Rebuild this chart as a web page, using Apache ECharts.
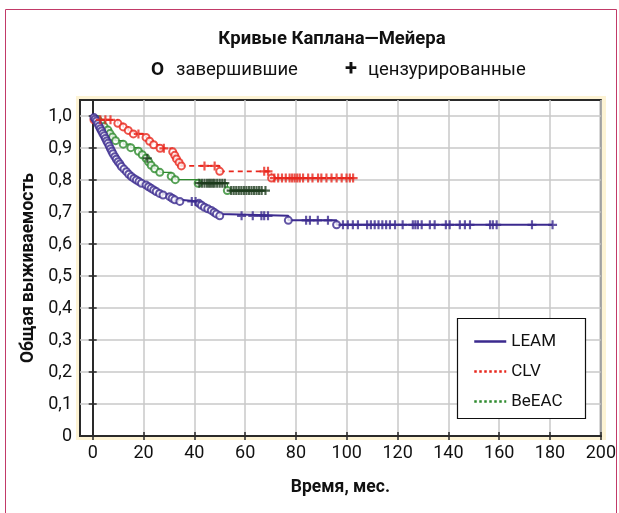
<!DOCTYPE html>
<html>
<head>
<meta charset="utf-8">
<script src="https://cdn.jsdelivr.net/npm/echarts@6/dist/echarts.min.js"></script>
<style>
  html, body { margin: 0; padding: 0; background: #fff; }
  #chart { width: 619px; height: 513px; }
</style>
</head>
<body>
<div id="chart"></div>
<script>
// Kaplan–Meier survival by regimen: event steps [time, survival] and censoring times
const xTicks = [0, 20, 40, 60, 80, 100, 120, 140, 160, 180, 200];
const yTicks = [0, 0.1, 0.2, 0.3, 0.4, 0.5, 0.6, 0.7, 0.8, 0.9, 1.0];

const leamEvents = [
  [0.5, 0.995], [1, 0.99], [1.5, 0.984], [2, 0.976], [2.5, 0.968], [3, 0.96], [3.5, 0.953],
  [4, 0.945], [4.5, 0.938], [5, 0.93], [5.5, 0.922], [6, 0.915], [6.5, 0.906], [7, 0.898],
  [7.5, 0.89], [8, 0.882], [8.7, 0.873], [9.3, 0.865], [10, 0.857], [10.7, 0.85], [11.3, 0.842],
  [12.3, 0.834], [13.3, 0.826], [14.2, 0.818], [15.2, 0.811], [16.2, 0.805], [17.2, 0.8],
  [18.2, 0.795], [19.2, 0.79], [21, 0.784], [22, 0.779], [23, 0.774], [24, 0.769], [25, 0.764],
  [26.3, 0.758], [27.7, 0.753], [30.3, 0.748], [31.3, 0.743], [32.3, 0.738], [34.3, 0.733],
  [41.8, 0.727], [42.8, 0.721], [44, 0.715], [45.3, 0.71], [46.7, 0.705], [47.8, 0.699],
  [48.7, 0.694], [50, 0.688], [77, 0.674], [96, 0.66]
];
const leamCensored = [
  39, 40.5, 58.6, 63, 66.4, 67.5, 69, 84, 85.5, 88.6, 92.6, 98.5, 100.4, 102.4, 104.4, 108,
  109.5, 111, 112.5, 114, 115.5, 117, 119, 122, 126, 127, 128, 129.5, 132.7, 134.6, 139, 140.5,
  144.5, 146.5, 148.5, 156.4, 157.5, 159, 172.9, 181
];

const clvEvents = [
  [0.5, 0.988], [9.9, 0.977], [12, 0.966], [14, 0.955], [16, 0.944], [21, 0.933], [22.4, 0.921],
  [24, 0.91], [26.5, 0.899], [31.5, 0.888], [32.3, 0.877], [33, 0.866], [34, 0.855],
  [34.9, 0.844], [50, 0.827], [70.4, 0.806]
];
const clvCensored = [
  3, 5, 7, 18, 28, 44, 48, 67.5, 69, 71.5, 73, 74.5, 76, 77.5, 78.5, 79.5, 80.5, 81.5, 82.8,
  84.8, 86.5, 88.7, 90, 92, 94, 96, 98, 99.9, 101.2, 102.5
];

const beeacEvents = [
  [2, 0.989], [3.5, 0.978], [4.5, 0.967], [6, 0.956], [6.8, 0.945], [7.8, 0.934], [9, 0.923],
  [12, 0.912], [15, 0.901], [18, 0.89], [19.5, 0.879], [21, 0.868], [22, 0.857], [23, 0.846],
  [24.4, 0.835], [26.4, 0.824], [30.9, 0.812], [32.5, 0.801], [41.5, 0.79], [53, 0.767]
];
const beeacCensored = [
  21.5, 42, 43, 44, 45, 45.8, 46.5, 47.3, 48, 49, 50, 51, 52, 54.5, 55.5, 56.5, 57.5, 58.5,
  59.5, 60.5, 61.5, 62.5, 63.5, 64.5, 65.5, 66.5, 68
];

const groups = [
  { name: 'LEAM',  events: leamEvents,  censored: leamCensored,  color: '#3b2a8e', crossColor: '#3b2a8e', type: 'solid',  width: 2 },
  { name: 'CLV',   events: clvEvents,   censored: clvCensored,   color: '#e8271d', crossColor: '#e8271d', type: [5, 4],   width: 1.6 },
  { name: 'BeEAC', events: beeacEvents, censored: beeacCensored, color: '#2e8b2e', crossColor: '#1d3b1d', type: 'solid',  width: 1.3 }
];

// survival level in force at time t (KM step function)
function levelAt(events, t) {
  let s = 1;
  for (const [et, es] of events) { if (et <= t) s = es; else break; }
  return s;
}

const FONT = 'Roboto, "Liberation Sans", sans-serif';
const series = [];
groups.slice().reverse().forEach(g => {
  const lastT = Math.max(g.events[g.events.length - 1][0], ...g.censored);
  const steps = [[0, 1]].concat(g.events, [[lastT, levelAt(g.events, lastT)]]);
  series.push({
    name: g.name, type: 'line', step: 'end', data: steps, symbol: 'none',
    lineStyle: { color: g.color, width: g.width, type: g.type },
    itemStyle: { color: g.color }, silent: true, z: 3
  });
  series.push({
    name: g.name + ' события', type: 'scatter', data: g.events,
    symbol: 'emptyCircle', symbolSize: 7,
    itemStyle: { color: g.color, borderColor: g.color, borderWidth: 1.7 }, z: 4
  });
  series.push({
    name: g.name + ' цензура', type: 'scatter',
    data: g.censored.map(t => [t, levelAt(g.events, t)]),
    symbol: 'path://M-1.2,-5H1.2V-1.2H5V1.2H1.2V5H-1.2V1.2H-5V-1.2H-1.2Z', symbolSize: 9,
    itemStyle: { color: g.crossColor }, z: 5
  });
});

const commaFmt = v => (Math.abs(v) < 1e-9 ? '0' : v.toFixed(1).replace('.', ','));

const chart = echarts.init(document.getElementById('chart'), null, { renderer: 'canvas' });
chart.setOption({
  animation: false,
  backgroundColor: '#fff',
  textStyle: { fontFamily: FONT },
  grid: {
    left: 80, right: 18, top: 100, bottom: 77,
    show: true, backgroundColor: '#fff', borderColor: '#2a2a2a', borderWidth: 2
  },
  xAxis: [{
    type: 'value', min: -5, max: 200,
    name: 'Время, мес.', nameLocation: 'middle', nameGap: 43,
    nameTextStyle: { fontFamily: FONT, fontSize: 17.5, fontWeight: 'bold', color: '#111' },
    axisLine: { show: true, lineStyle: { color: '#2a2a2a', width: 2 } },
    axisTick: { show: true, inside: true, length: 4, customValues: xTicks, lineStyle: { color: '#2a2a2a', width: 1.5 } },
    axisLabel: { customValues: xTicks, margin: 8, fontFamily: FONT, fontSize: 18, color: '#111' },
    splitLine: { show: true, lineStyle: { color: '#c9c9c9', width: 1.5 } }
  }, {
    type: 'value', min: -5, max: 200, position: 'top',
    axisLine: { show: false },
    axisTick: { show: true, inside: true, length: 4, customValues: xTicks, lineStyle: { color: '#2a2a2a', width: 1.5 } },
    axisLabel: { show: false }, splitLine: { show: false }
  }],
  yAxis: [{
    type: 'value', min: 0, max: 1.05,
    name: 'Общая выживаемость', nameLocation: 'middle', nameGap: 41,
    nameTextStyle: { fontFamily: FONT, fontSize: 17.5, fontWeight: 'bold', color: '#111' },
    axisLine: { show: true, lineStyle: { color: '#2a2a2a', width: 2 } },
    axisTick: { show: true, inside: true, length: 4, customValues: yTicks, lineStyle: { color: '#2a2a2a', width: 1.5 } },
    axisLabel: { customValues: yTicks, margin: 8, formatter: commaFmt, fontFamily: FONT, fontSize: 18, color: '#111' },
    splitLine: { show: true, lineStyle: { color: '#c9c9c9', width: 1.5 } }
  }, {
    type: 'value', min: 0, max: 1.05, position: 'right',
    axisLine: { show: false },
    axisTick: { show: true, inside: true, length: 4, customValues: yTicks, lineStyle: { color: '#2a2a2a', width: 1.5 } },
    axisLabel: { show: false }, splitLine: { show: false }
  }],
  legend: {
    data: ['LEAM', 'CLV', 'BeEAC'].map((n, i) => ({
      name: n,
      lineStyle: i === 0 ? { width: 2.5, type: 'solid' } : { width: 2.5, type: 'dotted' }
    })),
    orient: 'vertical', left: 473, top: 333, padding: 0, z: 20,
    itemWidth: 32, itemHeight: 14, itemGap: 13, selectedMode: false,
    itemStyle: { opacity: 0, borderWidth: 0 },
    textStyle: { fontFamily: FONT, fontSize: 17, color: '#111' }
  },
  graphic: [
    // outer frame
    { type: 'polyline', shape: { points: [[5.5, 520], [5.5, 9.5], [616.5, 9.5], [616.5, 520]] },
      style: { stroke: '#c23a68', lineWidth: 1, fill: null }, z: -10 },
    // cream band around the plot
    { type: 'rect', shape: { x: 76, y: 96, width: 530, height: 344 },
      style: { fill: '#fdf3d4' }, z: -5 },
    // legend box
    { type: 'rect', shape: { x: 457.5, y: 318.5, width: 128, height: 100 },
      style: { fill: '#fff', stroke: '#111', lineWidth: 1.2 }, z: 2 },
    { type: 'text', x: 332, y: 30,
      style: { text: 'Кривые Каплана—Мейера', font: 'bold 18.5px ' + FONT, fill: '#111', align: 'center' }, z: 20 },
    { type: 'text', x: 151, y: 61,
      style: { text: 'O', font: 'bold 19px ' + FONT, fill: '#111' }, z: 20 },
    { type: 'text', x: 176, y: 61,
      style: { text: 'завершившие', font: '18.5px ' + FONT, fill: '#111' }, z: 20 },
    { type: 'text', x: 345, y: 58,
      style: { text: '+', font: 'bold 22px ' + FONT, fill: '#111' }, z: 20 },
    { type: 'text', x: 368, y: 61,
      style: { text: 'цензурированные', font: '18.5px ' + FONT, fill: '#111' }, z: 20 }
  ],
  series: series
});
</script>
</body>
</html>
